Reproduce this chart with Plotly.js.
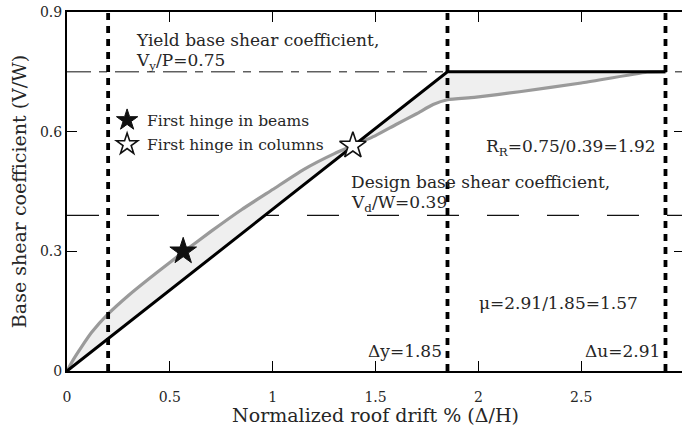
<!DOCTYPE html>
<html>
<head>
<meta charset="utf-8">
<script src="https://cdn.plot.ly/plotly-3.0.1.min.js"></script>
<style>
html,body{margin:0;padding:0;overflow:hidden;background:#fff;}
#chart{width:686px;height:426px;}
</style>
</head>
<body>
<div id="chart"></div>
<script>
// Pushover curve (gray)
const pushDrift = [0, 0.03, 0.07, 0.12, 0.2, 0.3, 0.4, 0.5, 0.57, 0.7, 0.85, 1.0, 1.15, 1.3, 1.39, 1.5, 1.6, 1.7, 1.78, 1.85, 1.98, 2.2, 2.5, 2.82, 2.91];
const pushShear = [0, 0.028, 0.06, 0.097, 0.143, 0.19, 0.232, 0.272, 0.30, 0.35, 0.405, 0.455, 0.505, 0.545, 0.565, 0.59, 0.618, 0.645, 0.668, 0.68, 0.686, 0.70, 0.722, 0.749, 0.75];
// Idealised bilinear curve (black)
const bilinDrift = [0, 1.85, 2.91];
const bilinShear = [0, 0.75, 0.75];
// First hinge points
const beamHinge = {drift: [0.565], shear: [0.30]};
const colHinge = {drift: [1.39], shear: [0.565]};
// Reference drifts (vertical dotted lines) and levels (horizontal dashed lines)
const refDrifts = [0.2, 1.85, 2.91];
const yieldLevel = 0.75;
const designLevel = 0.39;
// Axis ticks
const xTicks = [0, 0.5, 1, 1.5, 2, 2.5, 3];
const xTickText = ['0', '0.5', '1', '1.5', '2', '2.5', '3'];
const yTicks = [0, 0.3, 0.6, 0.9];
const yTickText = ['0', '0.3', '0.6', '0.9'];

const FONT = 'DejaVu Serif, Liberation Serif, serif';
const TXT = '#262626';

const traces = [
  {x: pushDrift, y: pushShear, mode: 'lines', line: {color: '#9a9a9a', width: 3.2, shape: 'spline', smoothing: 0.5},
   showlegend: false, hoverinfo: 'skip'},
  {x: bilinDrift, y: bilinShear, mode: 'lines', line: {color: '#000', width: 3},
   fill: 'tonexty', fillcolor: '#efefef', showlegend: false, hoverinfo: 'skip'},
  {x: beamHinge.drift, y: beamHinge.shear, mode: 'markers', name: 'First hinge in beams',
   legendgroup: 'a',
   marker: {symbol: 'star', size: 20, color: '#111', line: {color: '#111', width: 1}}},
  {x: colHinge.drift, y: colHinge.shear, mode: 'markers', name: 'First hinge in columns',
   legendgroup: 'b',
   marker: {symbol: 'star', size: 20, color: '#fff', line: {color: '#111', width: 1.6}}}
];

const shapes = [];
refDrifts.forEach(d => shapes.push({type: 'line', xref: 'x', yref: 'paper', x0: d, x1: d, y0: 0, y1: 1,
  line: {color: '#000', width: 3.8, dash: '7px,6px'}, layer: 'above'}));
shapes.push({type: 'line', xref: 'paper', yref: 'y', x0: 0, x1: 1, y0: yieldLevel, y1: yieldLevel,
  line: {color: '#111', width: 1, dash: '24px,8px,8px,8px'}, layer: 'below'});
shapes.push({type: 'line', xref: 'paper', yref: 'y', x0: 0, x1: 1, y0: designLevel, y1: designLevel,
  line: {color: '#111', width: 1.2, dash: '32px,28px'}, layer: 'below'});

function ann(text, x, y, xanchor, size) {
  return {text: text, x: x, y: y, xref: 'x', yref: 'y', xanchor: xanchor, yanchor: 'middle',
    showarrow: false, font: {family: FONT, size: size || 17, color: TXT}};
}
const annotations = [
  ann('Yield base shear coefficient,', 0.325, 0.829, 'left'),
  ann('V<sub>y</sub>/P=0.75', 0.325, 0.777, 'left'),
  ann('R<sub>R</sub>=0.75/0.39=1.92', 2.872, 0.56, 'right'),
  ann('Design base shear coefficient,', 1.37, 0.473, 'left'),
  ann('V<sub>d</sub>/W=0.39', 1.37, 0.42, 'left'),
  ann('μ=2.91/1.85=1.57', 1.995, 0.17, 'left'),
  ann('Δy=1.85', 1.832, 0.051, 'right'),
  ann('Δu=2.91', 2.892, 0.051, 'right')
];

const layout = {
  width: 686, height: 426,
  margin: {l: 67, r: 2, t: 12, b: 55},
  paper_bgcolor: '#fff', plot_bgcolor: '#fff',
  font: {family: FONT, color: TXT, size: 12},
  showlegend: true,
  legend: {x: 0.065, y: 0.745, xanchor: 'left', yanchor: 'top', bgcolor: 'rgba(0,0,0,0)',
    font: {family: FONT, size: 15.5, color: TXT}, tracegroupgap: 1, traceorder: 'grouped',
    itemwidth: 30},
  xaxis: {range: [0, 3], tickvals: xTicks, ticktext: xTickText, ticks: 'inside', ticklen: 10,
    tickwidth: 1.2, tickcolor: '#000', showline: true, linecolor: '#000', linewidth: 2,
    mirror: 'ticks', showgrid: false, zeroline: false, ticklabelstandoff: 12,
    tickfont: {family: FONT, size: 14, color: TXT},
    title: {text: 'Normalized roof drift % (Δ/H)', font: {family: FONT, size: 19, color: TXT}, standoff: 2}},
  yaxis: {range: [0, 0.9], tickvals: yTicks, ticktext: yTickText, ticks: 'inside', ticklen: 10,
    tickwidth: 1.2, tickcolor: '#000', showline: true, linecolor: '#000', linewidth: 2,
    mirror: 'ticks', showgrid: false, zeroline: false,
    tickfont: {family: FONT, size: 14, color: TXT},
    title: {text: 'Base shear coefficient (V/W)', font: {family: FONT, size: 19, color: TXT}, standoff: 8}},
  shapes: shapes,
  annotations: annotations
};

Plotly.newPlot('chart', traces, layout, {displayModeBar: false, staticPlot: true});
</script>
</body>
</html>
